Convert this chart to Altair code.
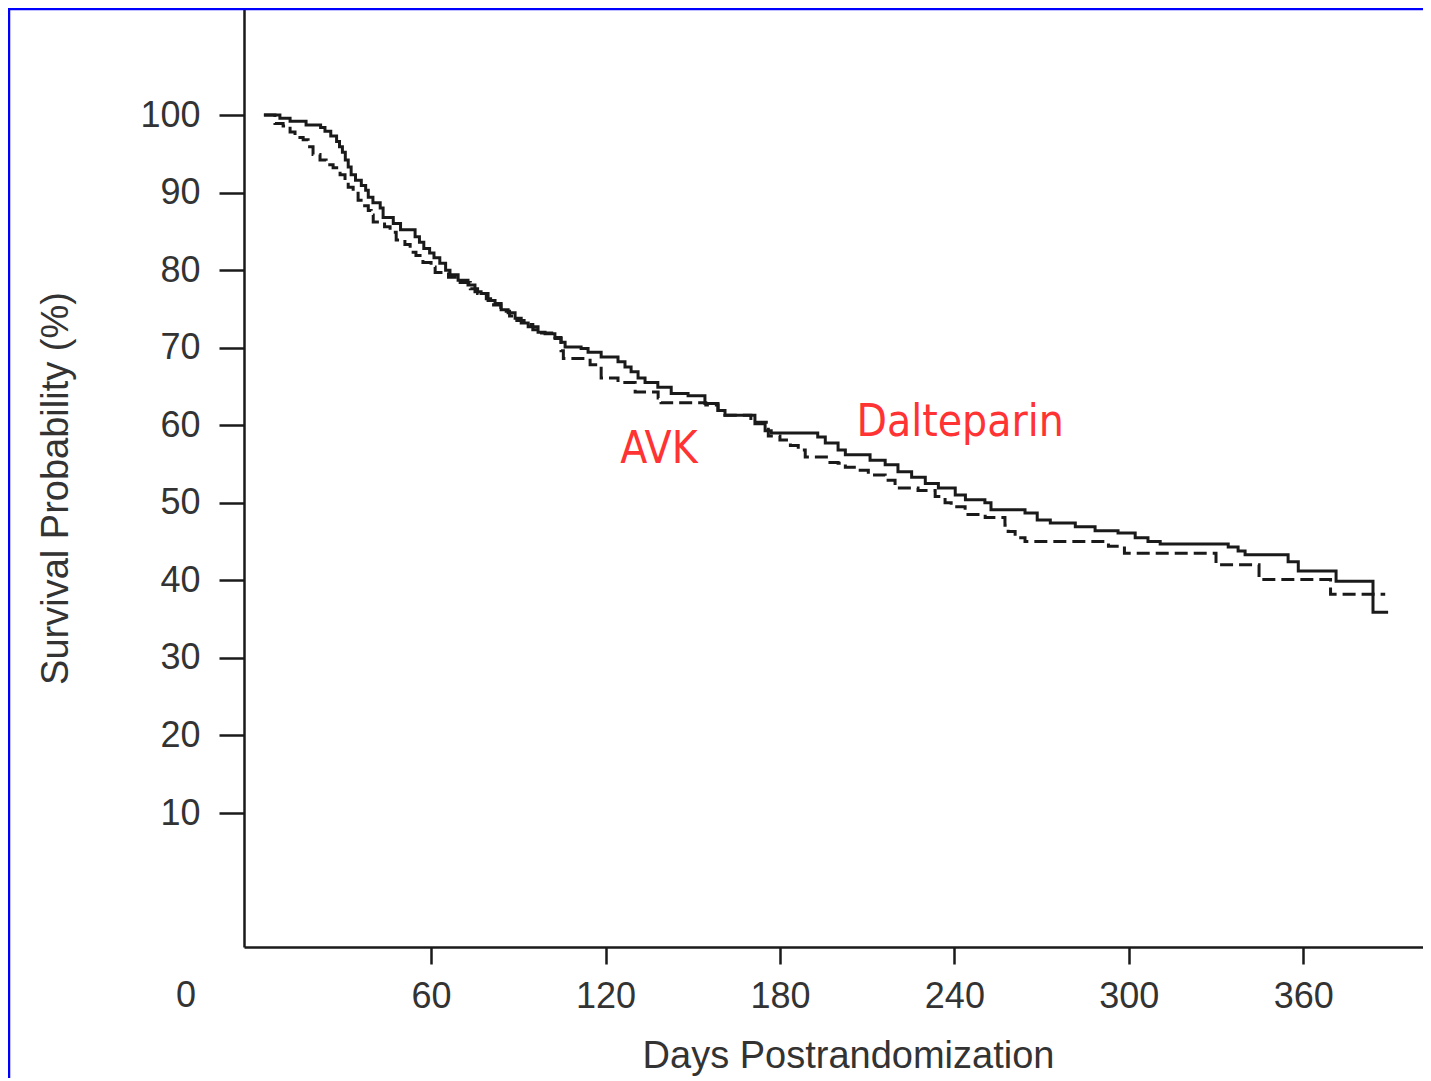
import altair as alt
import pandas as pd

# ---- data ----
dalt_days = [2.5, 8, 11.5, 17, 22, 23.5, 25.5, 27.5, 28.5, 29.5, 30.5, 31.5, 32.5, 34, 36, 37.5,
             38.4, 40, 42.5, 43.5, 47, 49.5, 54.5, 56, 57.5, 59.5, 61, 63, 65, 66.5, 69.3, 72.7,
             75.1, 77.2, 79.6, 82, 84.1, 86.5, 88.9, 91, 93.4, 96.8, 99.2, 102.6, 104.7, 106.1,
             111.6, 114, 118.5, 124.3, 126.7, 128.8, 131.2, 133.6, 138, 142.6, 148.4, 154.2,
             158.7, 161.1, 171.4, 174.9, 177, 193, 195.6, 200, 202.5, 211, 216.2, 220.6, 225.3,
             230, 234.5, 240.3, 243.8, 250.5, 252.6, 264.3, 268.5, 273, 281.6, 288.4, 296.3,
             302.2, 306.6, 310.8, 334.2, 337.6, 340, 354.8, 358.3, 371.3, 384, 389.2]
dalt_surv = [100.0, 99.6, 99.2, 98.7, 98.4, 97.9, 97.3, 96.6, 95.9, 95.2, 94.2, 93.3, 92.3, 91.6,
             90.9, 90.3, 89.4, 88.7, 88.0, 86.8, 86.0, 85.2, 84.3, 83.6, 82.8, 82.2, 81.6, 80.9,
             80.0, 79.4, 78.7, 78.1, 77.2, 77.0, 76.1, 75.7, 74.9, 74.5, 73.8, 73.2, 72.7, 72.0,
             71.8, 71.3, 70.7, 70.1, 69.9, 69.4, 68.8, 68.2, 67.5, 66.9, 66.1, 65.5, 64.9, 64.1,
             63.8, 62.8, 61.9, 61.3, 60.2, 59.3, 59.0, 58.5, 57.7, 56.8, 56.2, 55.5, 54.9, 54.0,
             53.3, 52.5, 51.9, 51.0, 50.4, 50.0, 49.1, 48.7, 47.8, 47.4, 46.9, 46.4, 46.1, 45.5,
             45.0, 44.7, 44.3, 43.8, 43.3, 42.4, 41.2, 39.9, 35.9, 35.9]

avk_days = [2.5, 6.3, 9.1, 11.5, 13.2, 16, 17.7, 19.4, 21.8, 23.9, 26.3, 28.7, 30.4, 31.5, 33.2,
            34.9, 36.6, 38.4, 39.4, 40.1, 44, 45.9, 48, 51, 52.8, 54.8, 57.2, 60, 61.4, 66, 70,
            73.5, 76, 79, 81.5, 84, 87, 89.5, 92, 95, 98, 101.5, 104.7, 105.5, 114.7, 118.5,
            124.3, 130.2, 138.1, 139.1, 154.5, 158.7, 161.1, 170, 176, 180, 183.6, 186.3, 188.7,
            196.5, 200, 202.5, 206.9, 210.4, 216.2, 219.6, 227.5, 233.4, 236.8, 238.9, 243.7,
            250.6, 257.4, 258.5, 260.9, 264.3, 293, 298.5, 330, 344.8, 369.4, 388.2]
avk_surv = [100.0, 98.9, 98.6, 97.8, 97.1, 96.8, 95.9, 94.9, 94.2, 93.6, 93.2, 92.3, 91.6, 90.7,
            89.9, 89.0, 88.3, 87.7, 87.1, 86.2, 85.6, 84.9, 83.9, 83.3, 82.3, 81.9, 81.0, 80.4,
            79.7, 79.1, 78.4, 77.6, 77.0, 76.3, 75.5, 74.7, 74.1, 73.5, 73.0, 72.3, 71.9, 71.2,
            69.6, 68.6, 67.8, 66.1, 65.5, 64.3, 63.5, 62.9, 62.6, 61.9, 61.3, 60.4, 58.6, 58.1,
            57.4, 56.8, 55.9, 55.2, 55.1, 54.6, 54.2, 53.6, 52.9, 51.9, 51.6, 50.8, 50.0, 49.5,
            48.5, 48.1, 47.1, 46.3, 45.5, 45.0, 44.4, 43.5, 42.0, 40.1, 38.2, 38.2]

x_ticks = [60, 120, 180, 240, 300, 360]
y_ticks = [10, 20, 30, 40, 50, 60, 70, 80, 90, 100]

series_names = ["Dalteparin", "AVK"]
label_text = ["AVK", "Dalteparin"]
label_day = [138.4, 242.0]
label_surv = [56.8, 60.3]

origin_text = ["0"]
origin_day = [-24.3]
origin_surv = [-11.45]

# ---- tables ----
df = pd.concat([
    pd.DataFrame({"day": dalt_days, "surv": dalt_surv, "group": "Dalteparin"}),
    pd.DataFrame({"day": avk_days, "surv": avk_surv, "group": "AVK"}),
], ignore_index=True)
df_lab = pd.DataFrame({"text": label_text, "day": label_day, "surv": label_surv})
df_zero = pd.DataFrame({"text": origin_text, "day": origin_day, "surv": origin_surv})

PAD_L = 236
W, H = 1179, 939
xscale = alt.Scale(domain=[-4.35, 401.2], nice=False, zero=False)
yscale = alt.Scale(domain=[-7.27, 113.8], nice=False, zero=False)
INK = "#1a1a1a"
LAB = "#333333"
FONT = "Liberation Sans"

x_axis = alt.Axis(values=x_ticks, grid=False, domainColor=INK, domainWidth=2.5,
                  tickColor=INK, tickWidth=2.5, tickSize=17, labelPadding=15,
                  labelFont=FONT, labelFontSize=36, labelColor=LAB,
                  title="Days Postrandomization", titleFont=FONT, titleFontSize=38,
                  titleFontWeight="normal", titleColor=LAB, titleX=604, titleY=120,
                  titleAlign="center", titleBaseline="alphabetic")
y_axis = alt.Axis(values=y_ticks, grid=False, domainColor=INK, domainWidth=2.5,
                  tickColor=INK, tickWidth=2.5, tickSize=25, labelPadding=19,
                  labelFont=FONT, labelFontSize=36, labelColor=LAB,
                  title="Survival Probability (%)", titleFont=FONT, titleFontSize=38,
                  titleFontWeight="normal", titleColor=LAB, titleX=-177, titleY=480,
                  titleAlign="center", titleBaseline="alphabetic", titleAngle=270)

lines = alt.Chart(df).mark_line(interpolate="step-after", strokeWidth=3, color=INK).encode(
    x=alt.X("day:Q", scale=xscale, axis=x_axis),
    y=alt.Y("surv:Q", scale=yscale, axis=y_axis),
    detail="group:N",
    order="day:Q",
    strokeDash=alt.StrokeDash("group:N", scale=alt.Scale(domain=series_names,
                              range=[[1, 0], [13, 6]]), legend=None),
)

labels = alt.Chart(df_lab).mark_text(font="'DejaVu Sans Condensed', 'Liberation Sans'", fontSize=44,
                                     color="#ff3333", align="center", baseline="middle").encode(
    x=alt.X("day:Q", scale=xscale), y=alt.Y("surv:Q", scale=yscale), text="text:N")

zero = alt.Chart(df_zero).mark_text(font=FONT, fontSize=36, color=LAB, align="center",
                                    baseline="top").encode(
    x=alt.X("day:Q", scale=xscale), y=alt.Y("surv:Q", scale=yscale), text="text:N")

frame_data = alt.Data(values=[{}])
frame_top = alt.Chart(frame_data).mark_rule(color="#0000ff", strokeWidth=2.5).encode(
    x=alt.value(-PAD_L), x2=alt.value(W), y=alt.value(1))
frame_left = alt.Chart(frame_data).mark_rule(color="#0000ff", strokeWidth=2.5).encode(
    x=alt.value(-PAD_L + 1), y=alt.value(0), y2=alt.value(H + 140))

chart = alt.layer(lines, labels, zero, frame_top, frame_left).properties(
    width=W, height=H,
    autosize=alt.AutoSizeParams(type="none"),
    padding={"left": PAD_L, "top": 0, "right": 0, "bottom": 131},
    background="white",
).configure_view(stroke=None)

chart.save("out.html", embed_options={"renderer": "svg", "actions": False})
